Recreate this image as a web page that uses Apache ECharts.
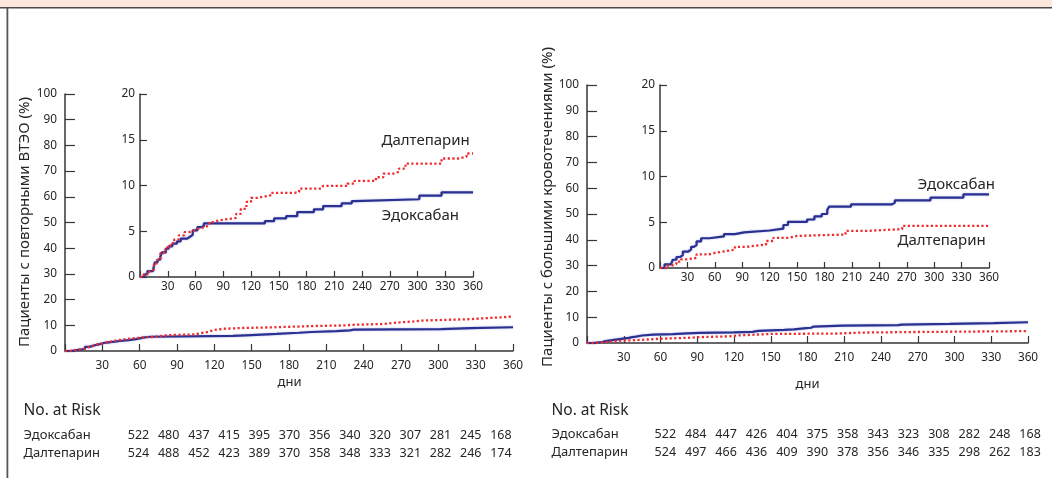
<!DOCTYPE html>
<html><head><meta charset="utf-8">
<script src="https://cdn.jsdelivr.net/npm/echarts@6/dist/echarts.min.js"></script>
<style>html,body{margin:0;padding:0;background:#fff}#c{width:1052px;height:478px}</style>
</head><body><div id="c"></div>
<script>
// ---------- DATA ----------
const seriesNames = ['Эдоксабан', 'Далтепарин'];
const yTitles = ['Пациенты с повторными ВТЭО (%)', 'Пациенты с большими кровотечениями (%)'];
const xTitle = 'дни';
const riskTitle = 'No. at Risk';

// cumulative incidence (%), [day, value] — recurrent VTE
const vteEdoxaban = [[0,0],[5,0.3],[8,0.65],[14,0.8],[16,1.6],[19,1.9],[22,2.25],[24,2.7],[28,3.1],[31,3.35],[35,3.65],[40,3.9],[44,4.2],[51,4.4],[54,4.6],[57,5.1],[62,5.45],[66,5.55],[69,5.85],[135,6.1],[145,6.4],[158,6.65],[170,7.1],[188,7.4],[198,7.75],[218,8.05],[229,8.3],[232,8.5],[302,8.9],[326,9.25],[360,9.25]];
const vteDalteparin = [[0,0],[4,0.3],[8,0.6],[12,0.8],[15,1.5],[19,2.0],[22,2.6],[26,3.0],[30,3.4],[33,3.7],[37,4.1],[42,4.55],[48,4.9],[53,5.1],[59,5.3],[64,5.45],[70,5.65],[75,6.0],[79,6.2],[86,6.4],[100,6.45],[104,6.9],[109,7.45],[115,8.2],[120,8.65],[127,8.8],[135,8.95],[142,9.2],[167,9.3],[172,9.65],[196,9.7],[198,9.95],[224,10.2],[232,10.5],[255,10.9],[263,11.3],[274,11.5],[280,11.85],[287,12.4],[326,12.95],[344,13.15],[353,13.5],[360,13.5]];

// major bleeding
const bleedEdoxaban = [[0,0],[5,0.4],[12,0.6],[14,0.9],[18,1.2],[22,1.4],[25,1.8],[31,2.0],[34,2.3],[37,2.5],[40,2.9],[45,3.25],[54,3.45],[70,3.7],[82,3.9],[92,4.1],[120,4.3],[135,4.7],[140,5.05],[161,5.3],[169,5.65],[177,5.9],[183,6.35],[185,6.7],[209,6.95],[254,7.15],[257,7.4],[296,7.7],[332,8.05],[360,8.05]];
const bleedDalteparin = [[0,0],[7,0.25],[12,0.45],[18,0.7],[23,0.95],[29,1.1],[40,1.5],[54,1.65],[60,1.8],[69,2.0],[82,2.3],[94,2.45],[105,2.55],[116,2.95],[124,3.3],[141,3.5],[150,3.6],[180,3.65],[203,4.05],[225,4.25],[265,4.6],[360,4.6]];

// numbers at risk
const riskVteEdoxaban   = [522,480,437,415,395,370,356,340,320,307,281,245,168];
const riskVteDalteparin = [524,488,452,423,389,370,358,348,333,321,282,246,174];
const riskBleedEdoxaban   = [522,484,447,426,404,375,358,343,323,308,282,248,168];
const riskBleedDalteparin = [524,497,466,436,409,390,378,356,346,335,298,262,183];

// ---------- STYLE ----------
const FF = 'Noto Sans';
const AX = '#363636';
const TXT = '#262626';
const BLUE = '#2b3190';
const RED = '#ee2b2f';

const grids = [
  {left: 65, top: 94, width: 448, height: 257},   // left main
  {left: 140, top: 94, width: 333, height: 183},  // left inset
  {left: 587, top: 85, width: 441, height: 258},  // right main
  {left: 660, top: 85, width: 329, height: 183}   // right inset
].map(g => Object.assign({outerBoundsMode: 'none', containLabel: false}, g));

function xAx(i, main) {
  return {
    type: 'value', gridIndex: i, min: 0, max: 360, interval: 30,
    axisLine: {show: true, lineStyle: {color: AX, width: 1.5}},
    axisTick: {show: true, inside: true, length: main ? 7 : 6, lineStyle: {color: AX, width: 1.2}},
    axisLabel: {formatter: v => v === 0 ? '' : String(v), margin: main ? 9 : 4, fontSize: 11.8, color: TXT, fontFamily: FF},
    splitLine: {show: false}
  };
}
function yAx(i, max, interval, main) {
  return {
    type: 'value', gridIndex: i, min: 0, max: max, interval: interval,
    axisLine: {show: true, lineStyle: {color: AX, width: 1.5}},
    axisTick: {show: true, inside: true, length: main ? 10 : 7, lineStyle: {color: AX, width: 1.2}},
    axisLabel: {margin: main ? 8 : 5, padding: [main ? 7 : 3, 0, 0, 0], fontSize: 11.8, color: TXT, fontFamily: FF},
    splitLine: {show: false}
  };
}
function ser(i, data, k) {
  return {
    type: 'line', xAxisIndex: i, yAxisIndex: i, data: data, step: 'end',
    name: seriesNames[k], symbol: 'none', silent: true,
    lineStyle: k === 0
      ? {color: BLUE, width: 2.2, shadowColor: 'rgba(110,120,210,0.55)', shadowBlur: 2}
      : {color: RED, width: 2.3, type: [2.2, 2.4]},
    z: k === 0 ? 3 : 4
  };
}

const graphic = [
  {type: 'rect', shape: {x: 0, y: 0, width: 1052, height: 7}, style: {fill: '#fde7dc'}, silent: true},
  {type: 'rect', shape: {x: 0, y: 7, width: 1052, height: 1.6}, style: {fill: '#4a4a4a'}, silent: true},
  {type: 'rect', shape: {x: 6.5, y: 7, width: 1.8, height: 471}, style: {fill: '#555'}, silent: true},
  // y titles
  {type: 'text', x: 25, y: 222, rotation: Math.PI / 2, style: {text: yTitles[0], font: '15px "Noto Sans"', fill: TXT, align: 'center', verticalAlign: 'middle'}},
  {type: 'text', x: 547.5, y: 207, rotation: Math.PI / 2, style: {text: yTitles[1], font: '15px "Noto Sans"', fill: TXT, align: 'center', verticalAlign: 'middle'}},
  // x titles
  {type: 'text', x: 289.5, y: 382, style: {text: xTitle, font: '13px "Noto Sans"', fill: TXT, align: 'center', verticalAlign: 'middle'}},
  {type: 'text', x: 807.5, y: 384, style: {text: xTitle, font: '13px "Noto Sans"', fill: TXT, align: 'center', verticalAlign: 'middle'}},
  // inset curve labels
  {type: 'text', x: 381.5, y: 141, style: {text: seriesNames[1], font: '15px "Noto Sans"', fill: TXT, align: 'left', verticalAlign: 'middle'}},
  {type: 'text', x: 381.5, y: 216, style: {text: seriesNames[0], font: '15px "Noto Sans"', fill: TXT, align: 'left', verticalAlign: 'middle'}},
  {type: 'text', x: 917.5, y: 184.5, style: {text: seriesNames[0], font: '15px "Noto Sans"', fill: TXT, align: 'left', verticalAlign: 'middle'}},
  {type: 'text', x: 897.5, y: 241, style: {text: seriesNames[1], font: '15px "Noto Sans"', fill: TXT, align: 'left', verticalAlign: 'middle'}}
];

function riskTable(x0, numX0, numStep, rowsY, titleY, rows) {
  graphic.push({type: 'text', x: x0, y: titleY, style: {text: riskTitle, font: '15.5px "Noto Sans"', fill: TXT, align: 'left', verticalAlign: 'middle'}});
  rows.forEach((vals, r) => {
    graphic.push({type: 'text', x: x0, y: rowsY[r], style: {text: seriesNames[r], font: '13px "Noto Sans"', fill: TXT, align: 'left', verticalAlign: 'middle'}});
    vals.forEach((v, j) => {
      graphic.push({type: 'text', x: numX0 + j * numStep, y: rowsY[r], style: {text: String(v), font: '12.5px "Noto Sans"', fill: TXT, align: 'center', verticalAlign: 'middle'}});
    });
  });
}
riskTable(23.5, 138.5, 30.2, [435, 453], 410.5, [riskVteEdoxaban, riskVteDalteparin]);
riskTable(551.5, 665.3, 30.4, [434.5, 452.5], 410.5, [riskBleedEdoxaban, riskBleedDalteparin]);

const chart = echarts.init(document.getElementById('c'), null, {renderer: 'canvas'});
chart.setOption({
  backgroundColor: '#fff',
  animation: false,
  textStyle: {fontFamily: FF},
  grid: grids,
  xAxis: [xAx(0, true), xAx(1, false), xAx(2, true), xAx(3, false)],
  yAxis: [yAx(0, 100, 10, true), yAx(1, 20, 5, false), yAx(2, 100, 10, true), yAx(3, 20, 5, false)],
  series: [
    ser(0, vteEdoxaban, 0), ser(0, vteDalteparin, 1),
    ser(1, vteEdoxaban, 0), ser(1, vteDalteparin, 1),
    ser(2, bleedEdoxaban, 0), ser(2, bleedDalteparin, 1),
    ser(3, bleedEdoxaban, 0), ser(3, bleedDalteparin, 1)
  ],
  graphic: graphic
});
</script></body></html>
